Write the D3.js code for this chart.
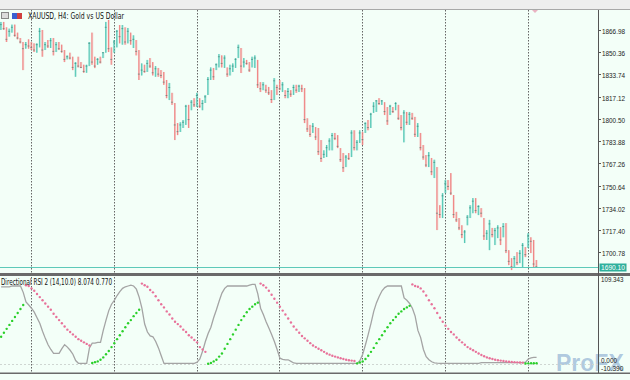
<!DOCTYPE html>
<html>
<head>
<meta charset="utf-8">
<script src="https://cdn.jsdelivr.net/npm/d3@7"></script>
<style>
  body { margin: 0; background: #fff; }
  svg { display: block; }
  text { font-family: "DejaVu Sans", "Liberation Sans", sans-serif; }
  .ax { font-family: "Liberation Sans Narrow", "Liberation Sans", sans-serif; }
</style>
</head>
<body>
<svg id="chart" width="630" height="380"></svg>
<script>
// XAUUSD H4 bars (one entry per bar)
var opens = [1868,1871,1868,1862,1866,1869,1863,1861,1857,1853.5,1856,1855,1854,1852,1856,1866,1852,1856,1855,1859,
  1851,1856,1853,1851,1845,1847,1846,1834,1842,1840,1839,1836,1841,1857,1843,1841,1845,1846.5,1850,1869,
  1853,1851,1856,1866,1862,1868,1858,1864,1859,1859,1851,1834,1837,1836,1842,1840,1835,1838,1834,1833,
  1828,1818,1819,1812,1796,1791,1796,1797,1810,1808,1813,1811,1816,1810,1813,1818.4,1830,1837,1837.5,1841,
  1847,1842,1838,1834,1838,1840,1846,1853,1840,1843,1842,1839,1845,1844,1826,1823,1826,1822,1820,1815,
  1825,1828,1823,1822,1818,1821,1819,1824,1822,1825,1823,1800,1793,1790,1794,1790,1776,1771.5,1774,1779,
  1779,1788,1786,1778,1770,1765,1772,1773,1790,1779,1783,1790,1790,1797,1794,1805,1806,1814,1812,1813,
  1806,1804,1809,1807,1811,1801,1790,1805,1798,1804,1801,1789,1790,1779,1772,1766,1771,1760,1764,1730,
  1729,1745,1752,1750,1743,1729,1725,1719,1710,1721,1727,1734,1739,1732,1733,1726,1713,1705,1719,1714,
  1717,1719,1712,1720,1702,1694,1690,1696,1693,1692,1704,1704,1712,1709,1692];
var highs = [1873,1873,1869,1868,1871,1871,1865,1861,1858,1858,1860,1858,1857,1857,1868.5,1867,1858,1859.5,1861,1861,
  1858,1858,1856,1852,1848,1850,1847,1843,1847,1843,1841,1841,1858,1865,1847,1846,1847,1850.5,1873,1874.5,
  1854,1859.5,1867,1870.7,1870.7,1869,1868.5,1865,1863,1859.5,1852,1842,1841,1844.6,1846,1843,1840,1838.6,1837,1835.6,
  1829.6,1827.4,1820,1812.4,1797.4,1798,1799.7,1811,1811,1814.6,1816,1820,1816,1814.6,1818.4,1831.8,1839,1838.6,1842,1849,
  1848,1848,1839,1841,1842,1846,1856,1853.5,1846,1844.6,1843,1847,1848,1844.6,1828,1828,1826,1824.4,1822,1831,
  1826,1829.6,1828,1822,1823.6,1822,1826,1826,1826,1826,1823.6,1801,1796,1797.4,1794.4,1793.7,1784.7,1777,1781,1786,
  1790,1790,1788.4,1778.7,1775,1773.5,1775,1792,1792,1784.7,1792,1790.7,1798,1799.7,1805,1813,1814.6,1816,1814.6,1813,
  1809.4,1811,1809.4,1813,1811,1803.4,1807,1805.7,1805.7,1805,1802,1797.4,1790,1781,1773.5,1775.7,1771.3,1770,1764.5,1736,
  1745,1754.8,1754.8,1760,1743.6,1731,1726.4,1721,1717.4,1728.6,1736,1741.3,1741.3,1736,1733.8,1726.4,1717.4,1725,1719,1719,
  1721,1719.6,1722.6,1722.6,1702.4,1696.4,1698,1700.9,1702.4,1707.7,1704.7,1715,1712,1710,1695];
var lows = [1867,1867,1858,1862,1865,1862,1860,1857,1837,1853,1853,1852,1850.5,1850,1854,1847,1852,1853.5,1853.5,1848,
  1850.5,1852,1850,1843,1845,1845,1837,1832,1839,1838.5,1835,1835,1840,1841,1838.5,1841,1842,1846,1850,1850.5,
  1841,1850,1854,1857,1856,1856,1857,1856,1853.5,1848,1829.6,1833,1835,1835.6,1838.6,1833,1832,1832,1831,1826,
  1816,1814.6,1811,1784.7,1788.4,1790.7,1793.7,1796,1793.7,1807,1809.4,1809.4,1808.7,1807,1812.4,1818.4,1829.6,1829.6,1837,1839,
  1839,1838.6,1832,1833,1835.6,1838.6,1846,1834.8,1839,1841,1835.6,1839,1838.6,1823.6,1820.6,1822,1820,1818.4,1812.4,1814.6,
  1818.4,1822,1820.6,1816,1816,1817,1818.4,1820,1820.6,1820.6,1797.4,1790.7,1787,1790,1784.7,1773.5,1768.3,1771.3,1772,1777,
  1777,1784.7,1778.7,1768.3,1760.8,1764.5,1769.8,1772,1777,1777,1782.5,1781,1790,1792,1793.7,1805,1805.7,1811,1811,1803.4,
  1796,1803.4,1805,1807,1799.7,1792,1783,1796,1796,1799.7,1787,1787,1777,1770,1764.5,1764.5,1758.5,1756.3,1717.4,1726.4,
  1726.4,1745,1747.3,1743.6,1726.4,1723.4,1717.4,1711.4,1707.7,1721,1726.4,1730,1730,1728.6,1727,1710,1710,1702.4,1712,1706.2,
  1711.4,1706.2,1712,1700.2,1691.2,1687.5,1689.7,1691.2,1692.7,1689.7,1697.2,1704,1700.2,1689.7,1690.1];
var closes = [1871,1868,1860,1866,1869,1863,1861,1858,1853,1856,1855,1854,1852,1856,1866,1852,1856,1855,1859,1851,
  1856,1853,1851,1845,1847,1846,1839,1842,1840,1839,1836,1840,1857,1843,1840,1845,1843,1850,1869,1853,
  1845,1858,1866,1862,1868,1858,1866,1859,1860,1851,1834,1837,1836,1842,1840,1835,1838,1834,1833,1828,
  1818,1824,1813,1796,1791,1796,1798,1810,1800,1813,1811,1818,1810,1812,1817,1830,1837,1832,1841,1847,
  1842,1846,1834,1838,1840,1845,1854,1840,1843,1842,1837,1845,1846,1826,1823,1826,1822,1820,1815,1829,
  1824,1823,1826,1818,1821,1819,1824,1822,1825,1823,1800,1793,1789,1795,1787,1776,1771,1774,1779,1784,
  1788,1786,1780,1770,1764,1772,1771,1790,1779,1783,1790,1785,1797,1794,1804,1810,1814,1812,1814,1806,
  1799,1810,1806,1812,1801,1794,1805,1798,1804,1801,1789,1795,1779,1772,1766,1773,1761,1768,1730,1729,
  1743,1752,1750,1745,1729,1725,1719,1714,1716,1727,1734,1739,1732,1735,1730,1713,1715,1722,1714,1717,
  1719,1710,1720,1702,1694,1690,1696,1693,1700,1706,1699,1713,1709,1692,1690.1];

// Directional RSI 2 (14,10.0): grey line, one value per bar
var rsiLine = [97,97,97,97,98,98,98,98,90,78,74,70,65,58,51,41,32,24,18,13,
  13,13,19,24,21,17,12,4,0.6,0.6,0.6,0.6,20,26,26,27,27,42,55,67,
  75,80,86,91,95,97,98,99,98,94,84,70,50,40,35,34,28,20,10,0.5,
  0.5,0.5,0.5,0.5,0.5,0.5,0.5,0.5,0.5,0.5,0.5,2,6,16,28,38,46,58,68,79,
  89,95,98,98,98,98,98,98,98,98,99,100,100,88,70,62,53,45,37,28,
  18,7,5.5,5,5,3,1,0.5,0.5,0.5,0.5,0.5,0.5,0.5,0.5,0.5,0.5,0.5,0.5,0.5,
  0.5,0.5,0.5,0.5,0.5,0.5,0.5,0.5,0.5,0.5,4,12,24,37,51,66,77,85,92,96,
  98,98,98,98,98,98,83,80,76,70,60,42,33,18,9,5,2.5,1.2,0.7,0.5,
  0.5,0.5,0.5,0.5,0.5,0.5,0.5,0.5,0.5,0.5,0.5,0.5,0.5,0.5,1.4,1.4,1.4,1.4,1.4,1.4,
  1.4,1.4,1.4,1.4,1.4,1.4,1.4,1.4,1.4,1.4,2,6,7.5,8,8.074];

// dot runs: [first bar, values]
var upDots = [
  [0, [34,39,44,49,54,59,64,69,74]],
  [33, [1,2,3,5,8,12,16,21,26,31,36,41,46,51,55,60,64,68]],
  [75, [0,1,3,5,9,13,19,25,31,37,43,49,55,60,65,69,72,75,77]],
  [129, [0.5,1.5,3,6,10,15,20,26,31,36,41,46,51,55,59,63,66,69,71,73]],
  [190, [0.3,0.5,0.6,0.7,0.77]]
];
var downDots = [
  [9, [99,98,95,92,88,84,80,76,72,68,63,59,55,51,47,43,40,37,34,31,29,27,25,23]],
  [51, [101,99,97,93,90,85,80,75,71,66,62,57,53,50,47,43,40,36,33,30,27,21,18,15]],
  [94, [101,99,96,92,87,82,77,72,67,62,57,52,47,43,39,35,32,29,26,23,21,19,17,15,13,11.5,10,9,8,7,6,5,4.5,4,3.5]],
  [149, [100,98,97,95,91,86,80,75,70,64,58,53,48,44,40,37,33,30,27,24,21,19,17,15,13,11,9.5,8,7,6,5,4.5,4,3.5,3,2.6,2.3,2,1.8,1.6,1.4]]
];

// first bar of each week (period separators)
var separatorBars = [11, 41, 71, 101, 131, 161, 191];
var priceTicks = ["1866.98","1850.36","1833.74","1817.12","1800.50","1783.88","1767.26","1750.64","1734.02","1717.40","1700.78"];
var lastPrice = 1690.10;
var rsiTicks = ["109.343", "0.000", "-10.390"];

var svg = d3.select("#chart");
var plotRight = 598;
var bg = "#f3fff8";

svg.append("rect").attr("width", 630).attr("height", 380).attr("fill", bg);
svg.append("rect").attr("width", 630).attr("height", 9).attr("fill", "#eeeeee");
svg.append("line").attr("x1", 0).attr("x2", 630).attr("y1", 9.5).attr("y2", 9.5)
  .attr("stroke", "#a8a8a8");

// scales
var x = d3.scaleLinear().domain([0, closes.length - 1]).range([0.64, 536.08]);
var y = d3.scaleLinear().domain([1700.78, 1866.98]).range([252.3, 30]);
var ry = d3.scaleLinear().domain([-10.39, 109.343]).range([372, 277]);

var defs = svg.append("defs");
defs.append("clipPath").attr("id", "clipTop").append("rect")
  .attr("x", 0).attr("y", 10).attr("width", plotRight).attr("height", 263);
defs.append("clipPath").attr("id", "clipBot").append("rect")
  .attr("x", 0).attr("y", 276).attr("width", plotRight).attr("height", 96);

// watermark (drawn first, sits under everything)
svg.append("text").attr("x", 556).attr("y", 371).attr("font-size", 23).attr("font-weight", "bold")
  .attr("fill", "#5b86c0").attr("fill-opacity", 0.45).style("font-family", "Liberation Sans, sans-serif")
  .text("ProFX");

// period separators
svg.append("g").selectAll("line")
  .data(separatorBars)
  .enter()
  .append("line")
  .attr("x1", function (d) { return Math.round(x(d)) + 0.5; })
  .attr("x2", function (d) { return Math.round(x(d)) + 0.5; })
  .attr("y1", 10).attr("y2", 373)
  .attr("stroke", "#666")
  .attr("stroke-dasharray", "1.5,1.5");

// price bars
var upCol = "#4cc4b1", downCol = "#f08080";
var bars = svg.append("g").attr("clip-path", "url(#clipTop)");
var barG = bars.selectAll("g")
  .data(closes)
  .enter()
  .append("g")
  .attr("stroke", function (d, i) { return d >= opens[i] ? upCol : downCol; });

barG.append("line")
  .attr("x1", function (d, i) { return x(i) + 0.5; })
  .attr("x2", function (d, i) { return x(i) + 0.5; })
  .attr("y1", function (d, i) { return y(highs[i]); })
  .attr("y2", function (d, i) { return y(lows[i]); })
  .attr("stroke-width", 2)
  .attr("stroke-opacity", 0.4);
barG.append("line")
  .attr("x1", function (d, i) { return x(i) + 0.2; })
  .attr("x2", function (d, i) { return x(i) + 0.2; })
  .attr("y1", function (d, i) { return y(highs[i]); })
  .attr("y2", function (d, i) { return y(lows[i]); })
  .attr("stroke-width", 1)
  .attr("stroke-opacity", 0.9);
barG.append("line")
  .attr("x1", function (d, i) { return x(i) - 0.8; })
  .attr("x2", function (d, i) { return x(i) + 1.2; })
  .attr("y1", function (d) { return y(d); })
  .attr("y2", function (d) { return y(d); })
  .attr("stroke-width", 1)
  .attr("stroke", "#2d6e64")
  .attr("stroke-opacity", 0.5);

// bid line
svg.append("line")
  .attr("x1", 0).attr("x2", plotRight)
  .attr("y1", Math.round(y(lastPrice)) + 0.5).attr("y2", Math.round(y(lastPrice)) + 0.5)
  .attr("stroke", "#5ec9b9");

// panel divider and frame
svg.append("rect").attr("x", 0).attr("y", 273).attr("width", 630).attr("height", 3).attr("fill", "#6a6a6a");
svg.append("rect").attr("x", 0).attr("y", 372.5).attr("width", 630).attr("height", 1.5).attr("fill", "#6a6a6a");
svg.append("line").attr("x1", plotRight + 0.5).attr("x2", plotRight + 0.5).attr("y1", 10).attr("y2", 373)
  .attr("stroke", "#555");

// price axis
var ticksG = svg.append("g");
priceTicks.forEach(function (t) {
  var ty = Math.round(y(+t)) + 0.5;
  ticksG.append("line").attr("x1", plotRight).attr("x2", plotRight + 3).attr("y1", ty).attr("y2", ty).attr("stroke", "#555");
  ticksG.append("text").attr("class", "ax").attr("x", 602).attr("y", ty + 3).attr("font-size", 8)
    .attr("textLength", 23).attr("lengthAdjust", "spacingAndGlyphs").attr("fill", "#222").text(t);
});
var ly = Math.round(y(lastPrice));
svg.append("rect").attr("x", 599.5).attr("y", ly - 3.5).attr("width", 27).attr("height", 8).attr("fill", "#2fb09c");
svg.append("text").attr("class", "ax").attr("x", 601).attr("y", ly + 3).attr("font-size", 8)
  .attr("textLength", 24).attr("lengthAdjust", "spacingAndGlyphs").attr("fill", "#fff").text(lastPrice.toFixed(2));

// shift marker
svg.append("path").attr("d", "M532,10 L538,10 L535,13 Z").attr("fill", "#e9b3c2");

// indicator panel
var low = svg.append("g").attr("clip-path", "url(#clipBot)");
low.append("line").attr("x1", 0).attr("x2", plotRight)
  .attr("y1", Math.round(ry(0)) + 0.5).attr("y2", Math.round(ry(0)) + 0.5)
  .attr("stroke", "#cfd6d2").attr("stroke-dasharray", "2,2");

low.append("path")
  .datum(rsiLine)
  .attr("d", d3.line().x(function (d, i) { return x(i) + 0.5; }).y(function (d) { return ry(d); }))
  .attr("fill", "none")
  .attr("stroke", "#a4a4a4")
  .attr("stroke-width", 1.3);

function drawDots(runs, color) {
  var pts = [];
  runs.forEach(function (r) {
    r[1].forEach(function (v, k) { pts.push([r[0] + k, v]); });
  });
  low.append("g").selectAll("circle")
    .data(pts)
    .enter()
    .append("circle")
    .attr("cx", function (d) { return x(d[0]) + 0.5; })
    .attr("cy", function (d) { return ry(d[1]); })
    .attr("r", 1.2)
    .attr("fill", color);
}
drawDots(downDots, "#e8729a");
drawDots(upDots, "#2ad02a");

// indicator axis labels
var rsiPos = [282, 362.5, 371], rsiSize = [8, 7, 7];
rsiTicks.forEach(function (t, k) {
  svg.append("text").attr("class", "ax").attr("x", 601).attr("y", rsiPos[k]).attr("font-size", rsiSize[k])
    .attr("textLength", t.length * 3.2).attr("lengthAdjust", "spacingAndGlyphs").attr("fill", "#222").text(t);
});

// titles
svg.append("rect").attr("x", 1.5).attr("y", 12.5).attr("width", 7).attr("height", 6).attr("fill", "#dcdcdc").attr("stroke", "#888");
svg.append("rect").attr("x", 12).attr("y", 13).attr("width", 5).attr("height", 6).attr("fill", "#3a5fd0");
svg.append("rect").attr("x", 17).attr("y", 13).attr("width", 5).attr("height", 6).attr("fill", "#d04040");
svg.append("text").attr("x", 28).attr("y", 19).attr("font-size", 8.5)
  .attr("textLength", 96).attr("lengthAdjust", "spacingAndGlyphs").attr("fill", "#111")
  .text("XAUUSD, H4:  Gold vs US Dollar");
svg.append("text").attr("x", 1).attr("y", 284.5).attr("font-size", 8.5)
  .attr("textLength", 111).attr("lengthAdjust", "spacingAndGlyphs").attr("fill", "#111")
  .text("Directional RSI 2 (14,10.0) 8.074 0.770");
</script>
</body>
</html>
